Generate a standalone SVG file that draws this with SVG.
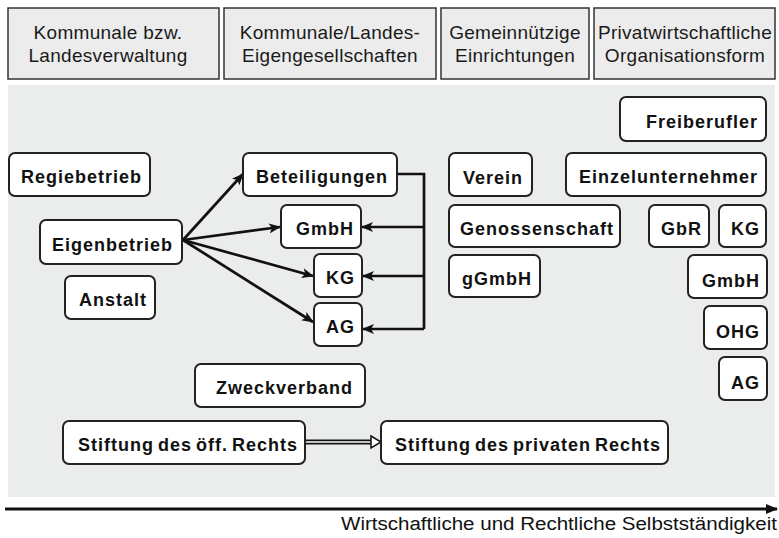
<svg xmlns="http://www.w3.org/2000/svg" width="779" height="538" viewBox="0 0 779 538">
<style>
.hdr{fill:#ececec;stroke:#333;stroke-width:1.5}
.ht{font-family:"Liberation Sans",Arial,sans-serif;font-size:19px;letter-spacing:0.3px;fill:#1a1a1a;text-anchor:middle}
.nb{fill:#fff;stroke:#222;stroke-width:2}
.nt{font-family:"Liberation Sans",Arial,sans-serif;font-size:18px;font-weight:bold;letter-spacing:1px;word-spacing:-2px;fill:#111;text-anchor:end}
.ar{fill:none;stroke:#111;stroke-width:2.7;marker-end:url(#ah)}
.ln{fill:none;stroke:#111;stroke-width:2.7}
</style>
<defs>
<marker id="ah" viewBox="0 0 12 10" refX="11" refY="5" markerWidth="12" markerHeight="10" markerUnits="userSpaceOnUse" orient="auto">
<path d="M0,0 L12,5 L0,10 L3,5 z" fill="#111"/>
</marker>
<marker id="axh" viewBox="0 0 12 10" refX="11" refY="5" markerWidth="12" markerHeight="10" markerUnits="userSpaceOnUse" orient="auto">
<path d="M0,0 L12,5 L0,10 z" fill="#111"/>
</marker>
</defs>
<rect width="779" height="538" fill="#fff"/>
<g id="headers">
<rect class="hdr" x="8" y="8" width="211" height="71"/>
<text class="ht" x="108" y="39">Kommunale bzw.</text>
<text class="ht" x="108" y="62">Landesverwaltung</text>
<rect class="hdr" x="224" y="8" width="212" height="71"/>
<text class="ht" x="330" y="39">Kommunale/Landes-</text>
<text class="ht" x="330" y="62">Eigengesellschaften</text>
<rect class="hdr" x="441" y="8" width="148" height="71"/>
<text class="ht" x="515" y="39">Gemeinnützige</text>
<text class="ht" x="515" y="62">Einrichtungen</text>
<rect class="hdr" x="594" y="8" width="181" height="71"/>
<text class="ht" x="685" y="39">Privatwirtschaftliche</text>
<text class="ht" x="685" y="62">Organisationsform</text>
</g>
<rect id="area" x="8" y="85" width="767" height="412" fill="#ebecec"/>
<g id="connectors">
<path class="ar" d="M183,240 L243,174"/>
<path class="ar" d="M183,240 L280,227"/>
<path class="ar" d="M183,240 L313,276"/>
<path class="ar" d="M183,240 L313,322"/>
<path class="ln" d="M397,174 H424 V329"/>
<path class="ar" d="M424,227 H362"/>
<path class="ar" d="M424,276 H363"/>
<path class="ar" d="M424,329 H363"/>
<path d="M305,442 H372" stroke="#111" stroke-width="5" fill="none"/>
<path d="M305,442 H372" stroke="#fff" stroke-width="1.3" fill="none"/>
<path d="M371,436 L381,442 L371,448 z" fill="#fff" stroke="#111" stroke-width="1.5"/>
<path d="M5,509 H777" stroke="#111" stroke-width="3" fill="none" marker-end="url(#axh)"/>
</g>
<g id="n-regie"><rect class="nb" x="9" y="153" width="141" height="43" rx="6"/><text class="nt" x="142" y="183">Regiebetrieb</text></g>
<g id="n-eigen"><rect class="nb" x="40" y="220" width="142" height="44" rx="6"/><text class="nt" x="173" y="251">Eigenbetrieb</text></g>
<g id="n-anstalt"><rect class="nb" x="65" y="276" width="90" height="43" rx="6"/><text class="nt" x="147" y="306">Anstalt</text></g>
<g id="n-beteil"><rect class="nb" x="243" y="153" width="154" height="43" rx="6"/><text class="nt" x="388" y="183">Beteiligungen</text></g>
<g id="n-gmbh1"><rect class="nb" x="281" y="205" width="80" height="43" rx="6"/><text class="nt" x="354" y="235">GmbH</text></g>
<g id="n-kg1"><rect class="nb" x="314" y="254" width="48" height="43" rx="6"/><text class="nt" x="355" y="284">KG</text></g>
<g id="n-ag1"><rect class="nb" x="314" y="303" width="48" height="43" rx="6"/><text class="nt" x="355" y="333">AG</text></g>
<g id="n-zweck"><rect class="nb" x="195" y="364" width="170" height="43" rx="6"/><text class="nt" x="353" y="394">Zweckverband</text></g>
<g id="n-stoeff"><rect class="nb" x="63" y="421" width="242" height="43" rx="6"/><text class="nt" x="298" y="451">Stiftung des öff. Rechts</text></g>
<g id="n-stpriv"><rect class="nb" x="381" y="421" width="287" height="43" rx="6"/><text class="nt" x="661" y="451">Stiftung des privaten Rechts</text></g>
<g id="n-verein"><rect class="nb" x="449" y="153" width="83" height="43" rx="6"/><text class="nt" x="523" y="184">Verein</text></g>
<g id="n-genos"><rect class="nb" x="449" y="205" width="171" height="42" rx="6"/><text class="nt" x="614" y="235">Genossenschaft</text></g>
<g id="n-ggmbh"><rect class="nb" x="449" y="255" width="91" height="42" rx="6"/><text class="nt" x="532" y="285">gGmbH</text></g>
<g id="n-freib"><rect class="nb" x="620" y="97" width="146" height="44" rx="6"/><text class="nt" x="758" y="128">Freiberufler</text></g>
<g id="n-einzel"><rect class="nb" x="566" y="153" width="200" height="43" rx="6"/><text class="nt" x="758" y="183">Einzelunternehmer</text></g>
<g id="n-gbr"><rect class="nb" x="649" y="205" width="60" height="42" rx="6"/><text class="nt" x="702" y="235">GbR</text></g>
<g id="n-kg2"><rect class="nb" x="719" y="205" width="47" height="42" rx="6"/><text class="nt" x="760" y="235">KG</text></g>
<g id="n-gmbh2"><rect class="nb" x="688" y="255" width="79" height="43" rx="6"/><text class="nt" x="760" y="287">GmbH</text></g>
<g id="n-ohg"><rect class="nb" x="704" y="306" width="63" height="43" rx="6"/><text class="nt" x="760" y="338">OHG</text></g>
<g id="n-ag2"><rect class="nb" x="719" y="357" width="48" height="43" rx="6"/><text class="nt" x="760" y="389">AG</text></g>
<text x="777" y="530" font-family="'Liberation Sans',Arial,sans-serif" font-size="18" fill="#111" text-anchor="end" textLength="436" lengthAdjust="spacingAndGlyphs">Wirtschaftliche und Rechtliche Selbstständigkeit</text>
</svg>
